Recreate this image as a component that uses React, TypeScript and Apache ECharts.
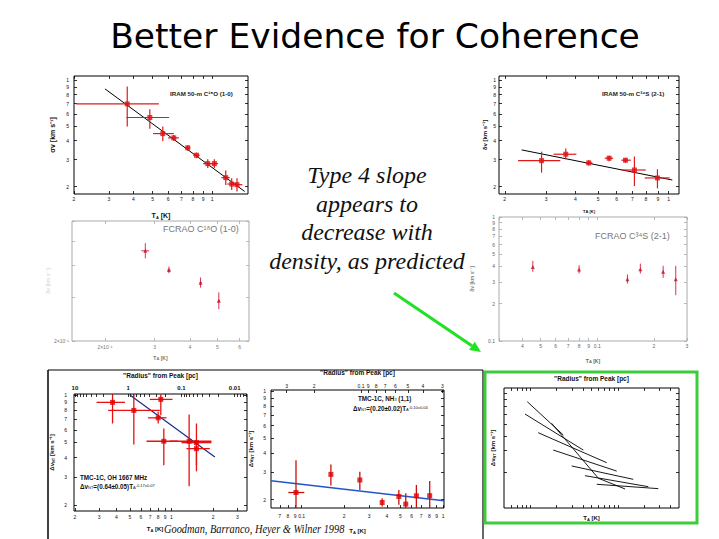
import React, { useEffect, useRef } from "react";
import * as echarts from "echarts";

// ---------------- text ----------------
const TITLE = "Better Evidence for Coherence";
const NOTE_LINES = ["Type 4 slope", "appears to", "decrease with", "density, as predicted"];
const CITATION = "Goodman, Barranco, Heyer & Wilner 1998";

// ---------------- Panel A: IRAM 50-m C18O (1-0) ----------------
const aT = [0.372, 0.484, 0.563, 0.64, 0.753, 0.834, 0.951, 1.027, 1.173, 1.257, 1.337];
const aDv = [0.696, 0.567, 0.445, 0.417, 0.359, 0.321, 0.283, 0.283, 0.229, 0.208, 0.206];
const aTlo = [0.205, 0.368, 0.503, 0.599, 0.728, 0.802, 0.901, 0.981, 1.115, 1.195, 1.277];
const aThi = [0.538, 0.606, 0.64, 0.679, 0.777, 0.866, 1.0, 1.072, 1.228, 1.327, 1.423];
const aDvlo = [0.495, 0.478, 0.398, 0.398, 0.343, 0.307, 0.265, 0.265, 0.205, 0.19, 0.186];
const aDvhi = [0.904, 0.642, 0.495, 0.436, 0.373, 0.334, 0.302, 0.302, 0.255, 0.227, 0.227];
const aFitT = [0.287, 1.462];
const aFitDv = [0.873, 0.186];

// ---------------- Panel B: IRAM 50-m C34S (2-1) ----------------
const bT = [0.287, 0.364, 0.456, 0.557, 0.654, 0.714, 0.895];
const bDv = [0.296, 0.326, 0.286, 0.307, 0.298, 0.257, 0.228];
const bTlo = [0.228, 0.323, 0.441, 0.534, 0.628, 0.63, 0.79];
const bThi = [0.345, 0.404, 0.473, 0.579, 0.689, 0.798, 1.01];
const bDvlo = [0.247, 0.302, 0.275, 0.293, 0.287, 0.202, 0.195];
const bDvhi = [0.339, 0.355, 0.299, 0.319, 0.308, 0.315, 0.26];
const bFitT = [0.236, 1.036];
const bFitDv = [0.348, 0.221];

// ---------------- Panel C: FCRAO C18O (1-0) ----------------
const cT = [0.278, 0.337, 0.436, 0.506];
const cDv = [0.459, 0.385, 0.342, 0.29];
const cTlo = [0.269, 0.333, 0.432, 0.502];
const cThi = [0.287, 0.341, 0.44, 0.51];
const cDvlo = [0.428, 0.373, 0.327, 0.268];
const cDvhi = [0.492, 0.397, 0.359, 0.313];

// ---------------- Panel D: FCRAO C34S (2-1) ----------------
const dT = [0.0454, 0.08, 0.1446, 0.1694, 0.224, 0.2614];
const dDv = [0.396, 0.377, 0.315, 0.379, 0.361, 0.315];
const dDvlo = [0.361, 0.35, 0.291, 0.35, 0.323, 0.234];
const dDvhi = [0.443, 0.408, 0.344, 0.421, 0.404, 0.404];

// ---------------- Panel E: TMC-1C OH 1667 MHz ----------------
const eT = [0.3745, 0.534, 0.837, 0.801, 0.88, 1.342, 1.516, 1.516];
const eDv = [0.898, 0.798, 0.938, 0.716, 0.508, 0.508, 0.498, 0.456];
const eTlo = [0.287, 0.348, 0.697, 0.678, 0.66, 0.973, 1.181, 1.283];
const eThi = [0.46, 0.823, 1.017, 0.92, 1.117, 1.946, 1.946, 1.893];
const eDvlo = [0.659, 0.484, 0.745, 0.659, 0.357, 0.263, 0.357, 0.327];
const eDvhi = [1.01, 1.01, 1.01, 0.782, 0.612, 0.752, 0.659, 0.515];
const eFitT = [0.5, 2.06];
const eFitDv = [1.0, 0.403];

// ---------------- Panel F: TMC-1C NH3 (1,1) ----------------
const fT = [0.0912, 0.161, 0.258, 0.371, 0.487, 0.545, 0.648, 0.805];
const fDv = [0.2226, 0.291, 0.268, 0.192, 0.21, 0.1876, 0.212, 0.2125];
const fTlo = [0.0805, 0.161, 0.258, 0.371, 0.487, 0.545, 0.648, 0.805];
const fThi = [0.1044, 0.161, 0.258, 0.371, 0.487, 0.545, 0.648, 0.805];
const fDvlo = [0.17, 0.2466, 0.2314, 0.1813, 0.186, 0.17, 0.17, 0.17];
const fDvhi = [0.359, 0.337, 0.303, 0.2048, 0.2314, 0.2204, 0.249, 0.264];
const fFitT = [0.0607, 1.016];
const fFitDv = [0.265, 0.197];

// ---------------- Panel G: model fits (segments) ----------------
const gT1 = [0.0923, 0.0869, 0.123, 0.183, 0.297, 0.421, 0.574, 0.175, 0.598];
const gDv1 = [0.769, 0.607, 0.424, 0.304, 0.224, 0.186, 0.1576, 0.508, 0.177];
const gT2 = [0.238, 0.403, 0.746, 0.971, 1.5, 2.23, 2.9, 0.598, 1.21];
const gDv2 = [0.406, 0.304, 0.2385, 0.203, 0.1734, 0.1505, 0.145, 0.177, 0.144];

// ---------------- tick values ----------------
const ticks02to1 = [0.2, 0.3, 0.4, 0.5, 0.6, 0.7, 0.8, 0.9, 1];
const ticks02to06 = [0.2, 0.3, 0.4, 0.5, 0.6];
const ticksC_Y = [0.2];
const ticks01to1 = [0.1, 0.2, 0.3, 0.4, 0.5, 0.6, 0.7, 0.8, 0.9, 1];
const ticks003to03 = [0.03, 0.04, 0.05, 0.06, 0.07, 0.08, 0.09, 0.1, 0.2, 0.3];
const labelsD_X = [0.04, 0.05, 0.06, 0.07, 0.08, 0.09, 0.1, 0.2, 0.3];
const ticks02to3 = [0.2, 0.3, 0.4, 0.5, 0.6, 0.7, 0.8, 0.9, 1, 2, 3];
const ticksRadiusE = [
  0.006, 0.007, 0.008, 0.009, 0.01, 0.02, 0.03, 0.04, 0.05, 0.06, 0.07, 0.08, 0.09,
  0.1, 0.2, 0.3, 0.4, 0.5, 0.6, 0.7, 0.8, 0.9, 1, 2, 3, 4, 5, 6, 7, 8, 9, 10,
];
const labelsRadiusE = [0.01, 0.1, 1, 10];
const ticks007to1 = [0.07, 0.08, 0.09, 0.1, 0.2, 0.3, 0.4, 0.5, 0.6, 0.7, 0.8, 0.9, 1];
const ticksG_X = [0.06, 0.07, 0.08, 0.09, 0.1, 0.2, 0.3, 0.4, 0.5, 0.6, 0.7, 0.8, 0.9, 1, 2, 3, 4];
const ticksG_Y = [0.2, 0.3, 0.4, 0.5, 0.6, 0.7, 0.8, 0.9];

const SANS = "Liberation Sans, Arial, sans-serif";
const SERIF = "Liberation Serif, Times New Roman, serif";

function fmtTick(v: number): string {
  const l = Math.log10(v);
  if (Math.abs(l - Math.round(l)) < 1e-6) {
    const p = Math.round(l);
    return p >= 0 ? String(Math.round(v)) : v.toFixed(-p);
  }
  return String(Math.round(v / Math.pow(10, Math.floor(l + 1e-9))));
}
function fmtC(v: number): string {
  if (Math.abs(v - 0.2) < 1e-6) return "2×10⁻¹";
  return fmtTick(v);
}

const nameRich = {
  sub: { fontSize: 4, verticalAlign: "bottom", fontFamily: SANS, fontWeight: "bold" },
};

function axis(gridIndex: number, o: any) {
  return {
    type: "log",
    logBase: 10,
    gridIndex,
    min: o.min,
    max: o.max,
    position: o.position,
    inverse: !!o.inverse,
    axisLine: { show: false },
    axisTick: {
      show: !!o.ticks,
      inside: true,
      length: o.tickLen ?? 3,
      customValues: o.ticks,
      lineStyle: { color: o.color ?? "#000", width: 0.8 },
    },
    axisLabel: o.labels
      ? {
          show: true,
          customValues: o.labels,
          formatter: o.fmt ?? fmtTick,
          fontSize: o.fontSize ?? 5,
          margin: o.margin ?? 3,
          color: o.labelColor ?? "#111",
          fontFamily: SANS,
          fontWeight: o.bold ? "bold" : "normal",
        }
      : { show: false },
    splitLine: { show: false },
    minorTick: { show: false },
    minorSplitLine: { show: false },
    name: o.name ?? "",
    nameLocation: "middle",
    nameGap: o.nameGap ?? 15,
    nameTextStyle: {
      fontSize: o.nameSize ?? 7,
      color: o.nameColor ?? "#111",
      fontFamily: SANS,
      fontWeight: "bold",
      rich: nameRich,
    },
    silent: true,
  };
}

function errorBars(xi: number, yi: number, T: number[], dv: number[], Tlo: number[], Thi: number[], dvlo: number[], dvhi: number[], color: string, width: number) {
  return {
    type: "custom",
    xAxisIndex: xi,
    yAxisIndex: yi,
    clip: true,
    z: 3,
    silent: true,
    data: T.map((t, i) => [t, dv[i], Tlo[i], Thi[i], dvlo[i], dvhi[i]]),
    encode: { x: 0, y: 1 },
    renderItem: (_params: any, api: any) => {
      const x = api.value(0);
      const y = api.value(1);
      const c = api.coord([x, y]);
      const xl = api.coord([api.value(2), y]);
      const xh = api.coord([api.value(3), y]);
      const yl = api.coord([x, api.value(4)]);
      const yh = api.coord([x, api.value(5)]);
      const style = { stroke: color, lineWidth: width };
      return {
        type: "group",
        children: [
          { type: "line", shape: { x1: xl[0], y1: c[1], x2: xh[0], y2: c[1] }, style },
          { type: "line", shape: { x1: c[0], y1: yl[1], x2: c[0], y2: yh[1] }, style },
        ],
      };
    },
  };
}

function points(xi: number, yi: number, T: number[], dv: number[], symbol: string, size: number, color: string) {
  return {
    type: "scatter",
    xAxisIndex: xi,
    yAxisIndex: yi,
    symbol,
    symbolSize: size,
    itemStyle: { color },
    z: 4,
    silent: true,
    data: T.map((t, i) => [t, dv[i]]),
  };
}

function fitLine(xi: number, yi: number, T: number[], dv: number[], color: string, width: number) {
  return {
    type: "line",
    xAxisIndex: xi,
    yAxisIndex: yi,
    symbol: "none",
    showSymbol: false,
    silent: true,
    z: 2,
    lineStyle: { color, width },
    data: T.map((t, i) => [t, dv[i]]),
  };
}

function buildOption() {
  const grid: any[] = [];
  const xAxis: any[] = [];
  const yAxis: any[] = [];
  const series: any[] = [];
  const addGrid = (left: number, top: number, width: number, height: number, border: string) => {
    grid.push({ left, top, width, height, show: true, borderColor: border, borderWidth: 1, backgroundColor: "transparent", outerBoundsMode: "none" });
    return grid.length - 1;
  };
  const addX = (a: any) => (xAxis.push(a), xAxis.length - 1);
  const addY = (a: any) => (yAxis.push(a), yAxis.length - 1);

  // ---- A ----
  const gA = addGrid(74, 76, 174, 118, "#000");
  const xA = addX(axis(gA, { min: 0.2, max: 1.52, position: "bottom", ticks: ticks02to1, labels: ticks02to1, margin: 2, name: "T{sub|A} [K]", nameGap: 18 }));
  addX(axis(gA, { min: 0.2, max: 1.52, position: "top", ticks: ticks02to1 }));
  const yA = addY(axis(gA, { min: 0.179, max: 1.06, position: "left", ticks: ticks02to1, labels: ticks02to1, margin: 5, name: "σv [km s⁻¹]", nameGap: 18 }));
  addY(axis(gA, { min: 0.179, max: 1.06, position: "right", ticks: ticks02to1 }));
  series.push(fitLine(xA, yA, aFitT, aFitDv, "#000", 1));
  series.push(errorBars(xA, yA, aT, aDv, aTlo, aThi, aDvlo, aDvhi, "#e01a1a", 1.2));
  series.push(points(xA, yA, aT, aDv, "rect", 5, "#e01010"));

  // ---- B ----
  const gB = addGrid(499, 76, 180, 118, "#000");
  const xB = addX(axis(gB, { min: 0.189, max: 1.106, position: "bottom", ticks: ticks02to1, labels: ticks02to1, margin: 2, name: "T{sub|A} [K]", nameGap: 15, nameSize: 4 }));
  addX(axis(gB, { min: 0.189, max: 1.106, position: "top", ticks: ticks02to1 }));
  const yB = addY(axis(gB, { min: 0.179, max: 1.06, position: "left", ticks: ticks02to1, labels: ticks02to1, margin: 3, name: "δv [km s⁻¹]", nameGap: 11, nameSize: 6 }));
  addY(axis(gB, { min: 0.179, max: 1.06, position: "right", ticks: ticks02to1 }));
  series.push(fitLine(xB, yB, bFitT, bFitDv, "#000", 1));
  series.push(errorBars(xB, yB, bT, bDv, bTlo, bThi, bDvlo, bDvhi, "#e01a1a", 1.2));
  series.push(points(xB, yB, bT, bDv, "rect", 5, "#e01010"));

  // ---- C ----
  const gC = addGrid(72, 221, 177, 120, "#aaa");
  const xC = addX(axis(gC, { min: 0.153, max: 0.647, position: "bottom", ticks: ticks02to06, labels: ticks02to06, fmt: fmtC, margin: 3, color: "#aaa", labelColor: "#777", name: "T{sub|A} [K]", nameGap: 14, nameSize: 5, nameColor: "#777" }));
  addX(axis(gC, { min: 0.153, max: 0.647, position: "top", ticks: ticks02to06, color: "#aaa" }));
  const yC = addY(axis(gC, { min: 0.2, max: 0.604, position: "left", ticks: ticks02to06, labels: ticksC_Y, fmt: fmtC, margin: 3, color: "#aaa", labelColor: "#777", name: "δv [km s⁻¹]", nameGap: 16, nameSize: 5, nameColor: "#ddd" }));
  addY(axis(gC, { min: 0.2, max: 0.604, position: "right", ticks: ticks02to06, color: "#aaa" }));
  series.push(errorBars(xC, yC, cT, cDv, cTlo, cThi, cDvlo, cDvhi, "#e03050", 1));
  series.push(points(xC, yC, cT, cDv, "triangle", 4, "#c0102a"));

  // ---- D ----
  const gD = addGrid(499, 217, 188, 124, "#aaa");
  const xD = addX(axis(gD, { min: 0.03, max: 0.3, position: "bottom", ticks: ticks003to03, labels: labelsD_X, margin: 2, color: "#aaa", labelColor: "#666", name: "T{sub|A} [K]", nameGap: 17, nameSize: 5, nameColor: "#666" }));
  addX(axis(gD, { min: 0.03, max: 0.3, position: "top", ticks: ticks003to03, color: "#aaa" }));
  const yD = addY(axis(gD, { min: 0.1, max: 1, position: "left", ticks: ticks01to1, labels: ticks01to1, margin: 4, color: "#aaa", labelColor: "#666", name: "δv [km s⁻¹]", nameGap: 25, nameSize: 5, nameColor: "#888" }));
  addY(axis(gD, { min: 0.1, max: 1, position: "right", ticks: ticks01to1, color: "#aaa" }));
  series.push(errorBars(xD, yD, dT, dDv, dT, dT, dDvlo, dDvhi, "#e03050", 1));
  series.push(points(xD, yD, dT, dDv, "triangle", 4, "#c0102a"));

  // ---- E ----
  const gE = addGrid(74, 394, 173, 117, "#000");
  const xE = addX(axis(gE, { min: 0.197, max: 3.52, position: "bottom", ticks: ticks02to3, labels: ticks02to3, margin: 3 }));
  addX(axis(gE, { min: 0.00587, max: 10.4, inverse: true, position: "top", ticks: ticksRadiusE, labels: labelsRadiusE, margin: 3, fontSize: 6, bold: true, name: "\"Radius\" from Peak [pc]", nameGap: 15, nameSize: 6.5 }));
  const yE = addY(axis(gE, { min: 0.183, max: 1.015, position: "left", ticks: ticks02to1, labels: ticks02to1, margin: 7, name: "Δv{sub|NT} [km s⁻¹]", nameGap: 19, nameSize: 6 }));
  addY(axis(gE, { min: 0.183, max: 1.015, position: "right", ticks: ticks02to1 }));
  series.push(fitLine(xE, yE, eFitT, eFitDv, "#1a2a8a", 1.2));
  series.push(errorBars(xE, yE, eT, eDv, eTlo, eThi, eDvlo, eDvhi, "#e81010", 1.3));
  series.push(points(xE, yE, eT, eDv, "rect", 5, "#e00000"));

  // ---- F ----
  const gF = addGrid(271, 390, 173, 118, "#000");
  const xF = addX(axis(gF, { min: 0.0607, max: 1.016, position: "bottom", ticks: ticks007to1, labels: ticks007to1, margin: 5, name: "T{sub|A} [K]", nameGap: 20, nameSize: 6 }));
  addX(axis(gF, { min: 0.0293, max: 0.378, inverse: true, position: "top", ticks: ticks003to03, labels: ticks003to03, margin: 2, name: "\"Radius\" from Peak [pc]", nameGap: 14, nameSize: 6.5 }));
  const yF = addY(axis(gF, { min: 0.177, max: 1.015, position: "left", ticks: ticks02to1, labels: ticks02to1, margin: 5, name: "Δv{sub|NT} [km s⁻¹]", nameGap: 17, nameSize: 6 }));
  addY(axis(gF, { min: 0.177, max: 1.015, position: "right", ticks: ticks02to1 }));
  series.push(fitLine(xF, yF, fFitT, fFitDv, "#2255cc", 1.3));
  series.push(errorBars(xF, yF, fT, fDv, fTlo, fThi, fDvlo, fDvhi, "#c81010", 1.3));
  series.push(points(xF, yF, fT, fDv, "rect", 5, "#e00000"));

  // ---- G ----
  const gG = addGrid(504, 388, 175, 120, "#000");
  const xG = addX(axis(gG, { min: 0.05, max: 5, position: "bottom", ticks: ticksG_X, name: "T{sub|A} [K]", nameGap: 7, nameSize: 6 }));
  addX(axis(gG, { min: 0.05, max: 5, position: "top", ticks: ticksG_X, name: "\"Radius\" from Peak [pc]", nameGap: 6, nameSize: 6.5 }));
  const yG = addY(axis(gG, { min: 0.1, max: 1, position: "left", ticks: ticksG_Y, name: "Δv{sub|NT} [km s⁻¹]", nameGap: 8, nameSize: 6 }));
  addY(axis(gG, { min: 0.1, max: 1, position: "right", ticks: ticksG_Y }));
  gT1.forEach((_, i) => {
    series.push(fitLine(xG, yG, [gT1[i], gT2[i]], [gDv1[i], gDv2[i]], "#000", 0.9));
  });

  // arrow geometry
  const ax1 = 394, ay1 = 293, ax2 = 481, ay2 = 352;
  const len = Math.hypot(ax2 - ax1, ay2 - ay1);
  const ux = (ax2 - ax1) / len, uy = (ay2 - ay1) / len;
  const bx = ax2 - ux * 11, by = ay2 - uy * 11;

  const graphic: any[] = [
    {
      type: "text", x: 367, y: 161, silent: true,
      style: { text: NOTE_LINES.join("\n"), fontFamily: SERIF, fontStyle: "italic", fontSize: 24, lineHeight: 28.5, fill: "#111", textAlign: "center", textVerticalAlign: "top" },
    },
    {
      type: "text", x: 164, y: 529, scaleX: 0.83, silent: true,
      style: { text: CITATION, fontFamily: SERIF, fontStyle: "italic", fontSize: 12.5, fill: "#111", textAlign: "left", textVerticalAlign: "middle" },
    },
    {
      type: "text", x: 155, y: 529, silent: true,
      style: { text: "T{sub|A} [K]", fontFamily: SANS, fontWeight: "bold", fontSize: 6, fill: "#111", textAlign: "center", textVerticalAlign: "middle", rich: nameRich },
    },
    { type: "text", x: 170, y: 93, silent: true, style: { text: "IRAM 50-m C¹⁸O (1-0)", fontFamily: SANS, fontWeight: "bold", fontSize: 6.2, fill: "#222", textVerticalAlign: "middle" } },
    { type: "text", x: 602, y: 93, silent: true, style: { text: "IRAM 50-m C³⁴S (2-1)", fontFamily: SANS, fontWeight: "bold", fontSize: 6.2, fill: "#222", textVerticalAlign: "middle" } },
    { type: "text", x: 163, y: 229, silent: true, style: { text: "FCRAO C¹⁸O (1-0)", fontFamily: SANS, fontSize: 9, fill: "#777", textVerticalAlign: "middle" } },
    { type: "text", x: 595, y: 236, silent: true, style: { text: "FCRAO C³⁴S (2-1)", fontFamily: SANS, fontSize: 9, fill: "#777", textVerticalAlign: "middle" } },
    { type: "text", x: 80, y: 477, silent: true, style: { text: "TMC-1C, OH 1667 MHz", fontFamily: SANS, fontWeight: "bold", fontSize: 6.3, fill: "#111", textVerticalAlign: "middle" } },
    { type: "text", x: 80, y: 486, silent: true, style: { text: "Δv{sub|NT}=(0.64±0.05)T{sub|A}{sup|-0.17±0.07}", fontFamily: SANS, fontWeight: "bold", fontSize: 6.3, fill: "#111", textVerticalAlign: "middle", rich: { sub: { fontSize: 4, verticalAlign: "bottom" }, sup: { fontSize: 4, verticalAlign: "top" } } } },
    { type: "text", x: 358, y: 398, silent: true, style: { text: "TMC-1C, NH{sub|3} (1,1)", fontFamily: SANS, fontWeight: "bold", fontSize: 6.3, fill: "#111", textVerticalAlign: "middle", rich: { sub: { fontSize: 4, verticalAlign: "bottom" } } } },
    { type: "text", x: 353, y: 408, silent: true, style: { text: "Δv{sub|NT}=(0.20±0.02)T{sub|A}{sup|-0.10±0.04}", fontFamily: SANS, fontWeight: "bold", fontSize: 6.3, fill: "#111", textVerticalAlign: "middle", rich: { sub: { fontSize: 4, verticalAlign: "bottom" }, sup: { fontSize: 4, verticalAlign: "top" } } } },
    // outer frame around the bottom-left pair
    { type: "line", silent: true, shape: { x1: 48, y1: 370, x2: 483, y2: 370 }, style: { stroke: "#000", lineWidth: 1.2 } },
    { type: "line", silent: true, shape: { x1: 48, y1: 370, x2: 48, y2: 539 }, style: { stroke: "#000", lineWidth: 1.5 } },
    { type: "line", silent: true, shape: { x1: 483, y1: 370, x2: 483, y2: 539 }, style: { stroke: "#000", lineWidth: 1.2 } },
    // green box
    { type: "rect", silent: true, shape: { x: 485, y: 372, width: 212, height: 151 }, style: { fill: "none", stroke: "#3ccc3c", lineWidth: 3 } },
    // green arrow
    { type: "line", silent: true, shape: { x1: ax1, y1: ay1, x2: bx, y2: by }, style: { stroke: "#22e022", lineWidth: 3 } },
    {
      type: "polygon", silent: true,
      shape: { points: [[ax2, ay2], [bx - uy * 5, by + ux * 5], [bx + uy * 5, by - ux * 5]] },
      style: { fill: "#22e022" },
    },
  ];

  return {
    animation: false,
    backgroundColor: "#fff",
    title: {
      text: TITLE,
      left: 370,
      top: 13,
      textAlign: "center",
      textStyle: { fontFamily: "DejaVu Sans", fontWeight: "normal", fontSize: 34.5, color: "#000" },
    },
    grid,
    xAxis,
    yAxis,
    series,
    graphic,
  };
}

export default function App() {
  const ref = useRef<HTMLDivElement>(null);
  useEffect(() => {
    if (!ref.current) return;
    const chart = echarts.init(ref.current, undefined, { renderer: "svg" });
    chart.setOption(buildOption() as any);
    return () => chart.dispose();
  }, []);
  return (
    <div
      ref={ref}
      style={{ position: "absolute", left: 0, top: 0, width: 719, height: 539, background: "#fff" }}
    />
  );
}
